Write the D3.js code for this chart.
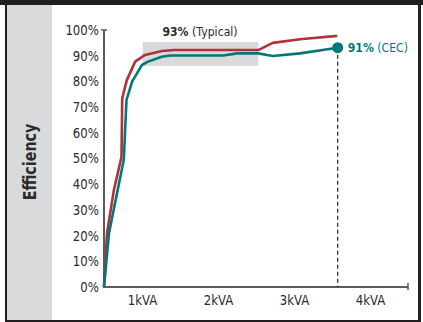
<!DOCTYPE html>
<html>
<head>
<meta charset="utf-8">
<script src="https://cdn.jsdelivr.net/npm/d3@7"></script>
<style>
  html, body { margin: 0; padding: 0; background: #fff; }
  svg { display: block; }
  text { font-family: "DejaVu Sans", sans-serif; }
</style>
</head>
<body>
<svg id="chart" width="423" height="322"></svg>
<script>
// Load in kVA and efficiency in percent for the two curves
const typicalLoad = [0, 0.04, 0.13, 0.23, 0.24, 0.30, 0.41, 0.54, 0.76, 0.93, 2.03, 2.22, 2.58, 3.07];
const typicalEff  = [0, 21, 37.7, 50.6, 73.4, 80.5, 87.7, 90.3, 91.8, 92.2, 92.2, 95.0, 96.4, 97.7];

const cecLoad = [0, 0.066, 0.18, 0.26, 0.296, 0.37, 0.50, 0.58, 0.76, 0.87, 1.57, 1.75, 2.03, 2.22, 2.58, 3.075];
const cecEff  = [0, 21, 37.7, 49.4, 72.8, 79.9, 86.4, 87.7, 89.6, 90.1, 90.1, 90.9, 90.9, 89.9, 90.9, 93.1];

// Shaded "typical" operating band: load range and efficiency range
const bandLoad = [0.51, 2.03];
const bandEff  = [86, 95.3];

// Summary values shown as annotations
const typicalLabel = ["93%", "(Typical)"];
const cecLabel = ["91%", "(CEC)"];

// Axis ticks
const yTicks = [0, 10, 20, 30, 40, 50, 60, 70, 80, 90, 100];
const xTickPos = [0.5, 1.5, 2.5, 3.5];
const xTickLabels = ["1kVA", "2kVA", "3kVA", "4kVA"];

const RED = "#b0323a", TEAL = "#00787b", AXIS = "#5b5b5b", TXT = "#2b2b2b";
const NARROW = 0.84; // horizontal squeeze for a condensed look

const svg = d3.select("#chart");

// Frame and side panel
svg.append("rect").attr("x", 0).attr("y", 0).attr("width", 423).attr("height", 322).attr("fill", "#fff");
svg.append("rect").attr("x", 7).attr("y", 5).attr("width", 45).attr("height", 315).attr("fill", "#d9dadb");
svg.append("rect").attr("x", 0).attr("y", 0).attr("width", 423).attr("height", 5).attr("fill", "#231f20");
svg.append("rect").attr("x", 5).attr("y", 0).attr("width", 2).attr("height", 322).attr("fill", "#231f20");
svg.append("rect").attr("x", 418).attr("y", 0).attr("width", 3).attr("height", 322).attr("fill", "#231f20");
svg.append("rect").attr("x", 5).attr("y", 320).attr("width", 416).attr("height", 2).attr("fill", "#231f20");

svg.append("text")
  .attr("transform", `translate(36,162) rotate(-90) scale(${NARROW},1)`)
  .attr("text-anchor", "middle")
  .attr("font-size", 17).attr("font-weight", "bold").attr("fill", TXT)
  .text("Efficiency");

const x = d3.scaleLinear().domain([0, 4]).range([104, 408]);
const y = d3.scaleLinear().domain([0, 100]).range([287, 30]);

// Typical band
svg.append("rect")
  .attr("x", x(bandLoad[0])).attr("width", x(bandLoad[1]) - x(bandLoad[0]))
  .attr("y", y(bandEff[1])).attr("height", y(bandEff[0]) - y(bandEff[1]))
  .attr("fill", "#d9dadb");

// Y axis: labels only, with an end cap at the top
const yAxis = svg.append("g").attr("transform", `translate(${x(0)},0)`)
  .call(d3.axisLeft(y).tickValues(yTicks).tickSize(0).tickPadding(6).tickFormat(d => d + "%"));
yAxis.select(".domain").remove();
yAxis.selectAll("text").attr("font-size", 14).attr("fill", TXT).attr("font-family", null)
  .attr("transform", `scale(${NARROW},1)`);
svg.append("line").attr("x1", x(0)).attr("x2", x(0)).attr("y1", y(100)).attr("y2", y(0))
  .attr("stroke", AXIS).attr("stroke-width", 2);
svg.append("line").attr("x1", x(0) - 3).attr("x2", x(0) + 3).attr("y1", y(100)).attr("y2", y(100))
  .attr("stroke", AXIS).attr("stroke-width", 1.5);

// X axis: labels centred in each kVA band, end cap at the right
const xAxis = svg.append("g").attr("transform", `translate(0,${y(0)})`)
  .call(d3.axisBottom(x).tickValues(xTickPos).tickSize(0).tickPadding(8)
    .tickFormat((d, i) => xTickLabels[i]));
xAxis.select(".domain").remove();
xAxis.selectAll("text").attr("font-size", 14).attr("fill", TXT).attr("font-family", null)
  .attr("transform", `scale(${NARROW},1)`);
svg.append("line").attr("x1", x(0) - 1).attr("x2", x(4)).attr("y1", y(0)).attr("y2", y(0))
  .attr("stroke", AXIS).attr("stroke-width", 2);
svg.append("line").attr("x1", x(4)).attr("x2", x(4)).attr("y1", y(0) - 4).attr("y2", y(0) + 3)
  .attr("stroke", AXIS).attr("stroke-width", 1.5);

// Dashed marker at the CEC end point
const endLoad = cecLoad[cecLoad.length - 1], endEff = cecEff[cecEff.length - 1];
svg.append("line").attr("x1", x(endLoad)).attr("x2", x(endLoad))
  .attr("y1", y(endEff)).attr("y2", y(0))
  .attr("stroke", "#222").attr("stroke-width", 1.2).attr("stroke-dasharray", "4,3");

// Curves
const line = d3.line().x(d => x(d[0])).y(d => y(d[1]));
svg.append("path").datum(d3.zip(typicalLoad, typicalEff))
  .attr("d", line).attr("fill", "none").attr("stroke", RED)
  .attr("stroke-width", 2.6).attr("stroke-linejoin", "round");
svg.append("path").datum(d3.zip(cecLoad, cecEff))
  .attr("d", line).attr("fill", "none").attr("stroke", TEAL)
  .attr("stroke-width", 2.6).attr("stroke-linejoin", "round");

svg.append("circle").attr("cx", x(endLoad)).attr("cy", y(endEff)).attr("r", 5.5).attr("fill", TEAL);

// Annotations
const t1 = svg.append("text").attr("transform", `translate(200,36) scale(${NARROW},1)`)
  .attr("text-anchor", "middle").attr("font-size", 13).attr("fill", TXT);
t1.append("tspan").attr("font-weight", "bold").text(typicalLabel[0]);
t1.append("tspan").text(" " + typicalLabel[1]);

const t2 = svg.append("text")
  .attr("transform", `translate(${x(endLoad) + 10},${y(endEff) + 4.5}) scale(${NARROW},1)`)
  .attr("font-size", 13).attr("fill", TEAL);
t2.append("tspan").attr("font-weight", "bold").text(cecLabel[0]);
t2.append("tspan").text(" " + cecLabel[1]);
</script>
</body>
</html>
